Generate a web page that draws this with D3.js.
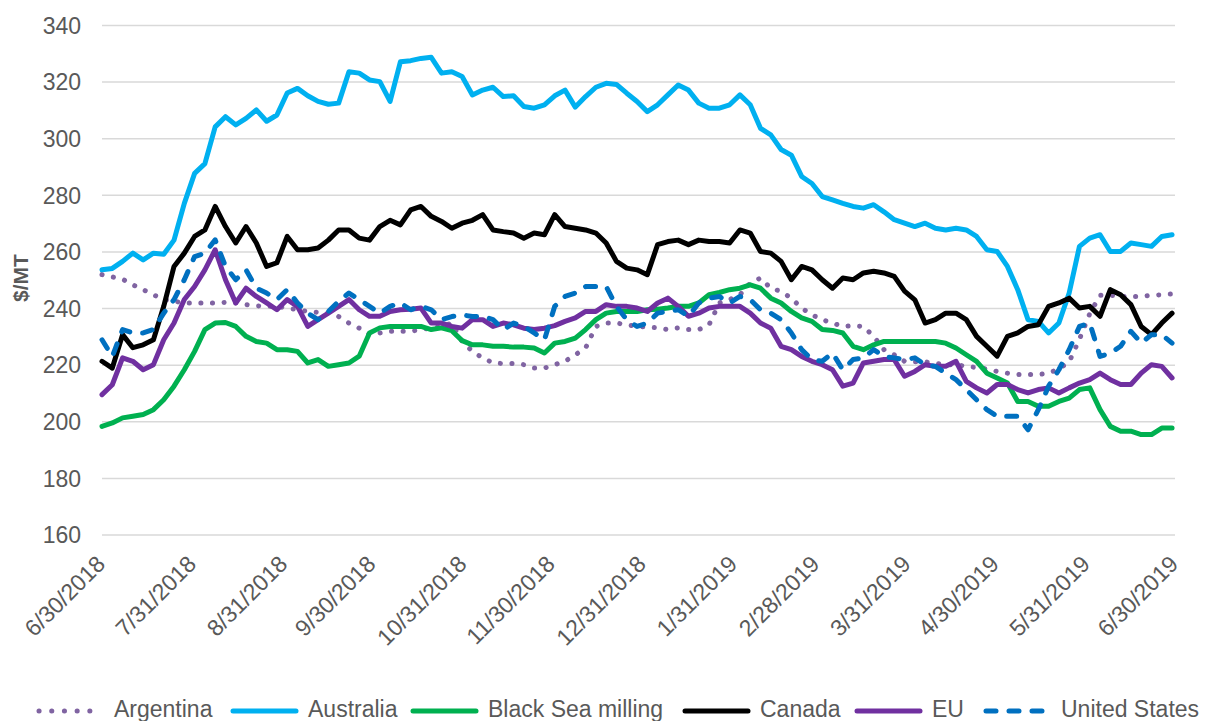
<!DOCTYPE html>
<html>
<head>
<meta charset="utf-8">
<script src="https://cdn.jsdelivr.net/npm/d3@7"></script>
<style>
  body { margin: 0; background: #fff; }
  svg { font-family: "Liberation Sans", Arial, sans-serif; }
</style>
</head>
<body>
<svg width="1205" height="721"></svg>
<script>
// weekly anchor dates; values below are read twice a week (anchor, then +3.5 days)
const weeks = [
  "2018-06-30","2018-07-07","2018-07-14","2018-07-21","2018-07-28","2018-08-04","2018-08-11","2018-08-18","2018-08-25",
  "2018-09-01","2018-09-08","2018-09-15","2018-09-22","2018-09-29","2018-10-06","2018-10-13","2018-10-20","2018-10-27",
  "2018-11-03","2018-11-10","2018-11-17","2018-11-24","2018-12-01","2018-12-08","2018-12-15","2018-12-22","2018-12-29",
  "2019-01-05","2019-01-12","2019-01-19","2019-01-26","2019-02-02","2019-02-09","2019-02-16","2019-02-23",
  "2019-03-02","2019-03-09","2019-03-16","2019-03-23","2019-03-30","2019-04-06","2019-04-13","2019-04-20","2019-04-27",
  "2019-05-04","2019-05-11","2019-05-18","2019-05-25","2019-06-01","2019-06-08","2019-06-15","2019-06-22","2019-06-29"
];

const argentina = [251.8,251,250.2,248.2,246.5,244.7,243,242.4,241.8,241.8,241.8,241.8,242,241.8,241.2,240.8,240.6,240.6,
  240,239.4,238.8,238.5,238.2,237,234.7,232.9,230.6,231.2,231.8,231.8,231.8,232.4,233,233.5,234.7,228.2,224.7,222.4,
  220.6,220.4,220.4,220,218.8,218.8,220,221.2,223.5,225.9,233.5,234.7,234.7,234.1,233.5,233.3,233,232.4,233,232.4,
  232.4,234.1,241.8,243,244.7,248.8,250.6,247,245.9,243.5,240,237.6,235.9,234.7,233.5,233.8,233.5,230,225.3,223.5,
  221.2,221,221,220.5,220,220,219.4,219,218.5,217.6,217,216.5,216.5,216.5,217,218.5,221,229,238,244.5,244.5,244.1,
  244.1,244.1,244.5,244.7,245];
const australia = [253.5,254,256.5,259.4,257,259.4,259,264,277,287.6,291,304,307.6,304.7,307,310,306,308.2,316,317.6,
  315,313,312,312.4,323.5,323,320.6,320,313,327,327.4,328.2,328.6,323,323.5,321.8,315.3,317,318,314.7,315,311.2,
  310.6,311.8,315,317,311,314.7,318,319.4,319,315.9,313,309.4,311.8,315.3,318.8,317,312.4,310.6,310.6,311.8,315.3,
  311.8,303.5,301.2,296,294,286.5,284,279.4,278.2,277,275.9,275.3,276.5,274,271.2,270,268.8,270,268.2,267.6,268.2,
  267.6,265.3,260.6,260,254.7,246.5,235.9,235.3,231.2,234.7,245.3,261.8,264.7,265.9,260,260,263,262.4,261.8,265.3,265.9];
const blackSea = [198.2,199.4,201.2,201.8,202.4,204.1,207.6,212.4,218.2,224.7,232.4,234.7,234.9,233.5,230,228.2,227.6,
  225.3,225.3,224.7,220.6,221.8,219.4,220,220.6,223,231.2,233,233.5,233.5,233.5,233.5,232.4,233,232,228.5,227,227,
  226.5,226.5,226.2,226.2,225.9,224.1,227.6,228.2,229.4,232.4,235.9,238.2,238.8,238.8,238.8,239.4,239.6,240,240.6,
  240.6,241.8,244.7,245.5,246.5,247,248.2,247,243.5,241.8,238.8,236.5,235.3,232.4,232.1,231.2,226.5,225.3,227,228.2,
  228.2,228.2,228.2,228.2,228.2,227.6,225.9,223.5,221.2,217,215.3,213.5,207,207,205.3,205.3,207,208.2,211.2,211.8,
  204.1,198.2,196.5,196.5,195.3,195.3,197.6,197.6];
const canada = [221.2,218.8,230.6,226,227,228.8,240.6,254.7,259.4,265.3,267.6,275.9,268.8,263,268.8,263,254.7,256,265.3,
  260.6,260.6,261.2,264,267.6,267.6,264.7,264,268.8,271,269.4,274.7,275.9,272.4,270.6,268.2,270,271,273,267.6,267,
  266.5,264.7,266.5,265.9,273,268.8,268.2,267.6,266.5,263,256.5,254.1,253.5,251.8,262.4,263.5,264,262.4,264,263.5,
  263.5,263,267.6,266.5,260,259.4,256.5,250,254.7,253.5,250,247,250.6,250,252.4,253,252.4,251.2,246,242.9,234.7,
  235.9,238.2,238.2,235.9,230,226.5,223,230,231.2,233.5,234.1,240.6,241.8,243.5,240,240.6,237.1,246.5,244.7,241.2,
  233.5,230.6,234.7,238.2];
const eu = [209.4,212.9,222.4,221.2,218.2,220,228.8,234.7,243,247.6,253.5,260.6,250,241.8,247,244.1,241.8,239.4,243,
  240.6,233.5,235.9,238.2,240.6,243,239.4,237.1,237.1,238.8,239.4,239.6,240,234.7,234.7,233.5,232.9,235.9,235.9,
  233.5,234.7,234.1,232.9,232.4,232.9,233.8,235.3,236.5,238.8,238.8,241.2,240.6,240.6,240,238.8,241.8,243.5,240.6,
  237.1,238.2,240,240.6,240.6,240.6,238.2,234.7,232.9,226.5,225.3,222.9,221.2,220,218.2,212.4,213.5,220.6,221.2,
  221.8,221.8,215.9,217.6,220,219.4,219.4,221.2,214.1,211.8,210,213,213,211.2,210,211.2,211.8,210,211.8,213.5,214.7,
  217,214.7,213,213,217,220,219.4,215.3];
const unitedStates = [228.8,222.9,232.4,231.2,231.2,232.4,238.2,243,250,258.2,259.4,264.1,254.7,250,253.5,247,245.3,243,
  246.5,241.8,238.2,235.9,238.8,242.4,245.3,243,240.6,238.2,240.6,241.8,239.4,240.6,239.4,235.9,237,237.6,237,237.1,
  235.9,232.4,234.7,233.5,231.2,228.8,240.6,244.1,245.3,247.6,247.6,247.6,240.6,235.9,233.5,234.7,238.2,238.8,239.4,
  237.1,241.8,243.5,244.1,241.8,244.1,243,239.4,238.2,235.9,231.2,225.3,221.8,221.2,224.1,218.2,221.8,222.4,225.3,
  222.9,222.4,221.8,222.4,220,219.4,217,214.7,211.2,207.6,204.1,201.8,201.8,201.8,197,204.1,212.4,218.2,225.3,233.5,
  234.7,222.9,224.1,226.5,231.8,227.6,230.6,230.6,227.6];

const seriesNames = ["Argentina", "Australia", "Black Sea milling", "Canada", "EU", "United States"];
const seriesValues = [argentina, australia, blackSea, canada, eu, unitedStates];

const monthTicks = ["2018-06-30","2018-07-31","2018-08-31","2018-09-30","2018-10-31","2018-11-30","2018-12-31",
  "2019-01-31","2019-02-28","2019-03-31","2019-04-30","2019-05-31","2019-06-30"];
const monthLabels = ["6/30/2018","7/31/2018","8/31/2018","9/30/2018","10/31/2018","11/30/2018","12/31/2018",
  "1/31/2019","2/28/2019","3/31/2019","4/30/2019","5/31/2019","6/30/2019"];
const yTicks = [160, 180, 200, 220, 240, 260, 280, 300, 320, 340];

const styles = [
  { color: "#8064a2", dash: "0.1 11.5" },
  { color: "#00b0f0", dash: null },
  { color: "#00b050", dash: null },
  { color: "#000000", dash: null },
  { color: "#7030a0", dash: null },
  { color: "#0070c0", dash: "10 13" }
];

const parse = d3.timeParse("%Y-%m-%d");
const svg = d3.select("svg");
const plotLeft = 102, plotRight = 1175, plotTop = 25, plotBottom = 534.5;

// sample dates: each week anchor followed by its mid-week point
const sampleDates = [];
weeks.forEach((w, i) => {
  sampleDates.push(parse(w));
  if (i < weeks.length - 1) sampleDates.push(d3.timeHour.offset(parse(w), 84));
});

const x = d3.scaleTime()
  .domain([parse("2018-06-30"), parse("2019-06-30")])
  .range([plotLeft, plotRight]);
const y = d3.scaleLinear().domain([160, 340]).range([plotBottom, plotTop]);

// y grid + labels
const yAxis = svg.append("g")
  .attr("transform", `translate(${plotLeft},0)`)
  .call(d3.axisLeft(y).tickValues(yTicks).tickSize(-(plotRight - plotLeft)).tickPadding(21));
yAxis.select(".domain").remove();
yAxis.selectAll("line").attr("stroke", "#d9d9d9").attr("stroke-width", 1.5);
yAxis.selectAll("text").attr("fill", "#595959").style("font-size", "23px").attr("dy", "0.36em");

// x labels
const labelOf = new Map(monthTicks.map((d, i) => [+parse(d), monthLabels[i]]));
const xAxis = svg.append("g")
  .attr("transform", `translate(0,${plotBottom})`)
  .call(d3.axisBottom(x).tickValues(monthTicks.map(parse)).tickSize(0)
    .tickFormat(d => labelOf.get(+d)));
xAxis.select(".domain").remove();
xAxis.selectAll("text")
  .attr("fill", "#595959")
  .style("font-size", "23px")
  .attr("x", 0).attr("y", 0).attr("dy", 0)
  .attr("transform", "translate(4,31) rotate(-45)")
  .style("text-anchor", "end");

// axis title
svg.append("text")
  .attr("transform", "translate(28,278) rotate(-90)")
  .attr("text-anchor", "middle")
  .attr("fill", "#595959")
  .style("font-size", "21px")
  .style("font-weight", "bold")
  .text("$/MT");

// lines
const line = d3.line()
  .x(d => x(d[0]))
  .y(d => y(d[1]));

seriesValues.forEach((vals, i) => {
  const pts = sampleDates.map((dt, j) => [dt, vals[j]]);
  svg.append("path")
    .datum(pts)
    .attr("fill", "none")
    .attr("stroke", styles[i].color)
    .attr("stroke-width", 5)
    .attr("stroke-linejoin", "round")
    .attr("stroke-linecap", "round")
    .attr("stroke-dasharray", styles[i].dash)
    .attr("d", line);
});

// legend
const legendX = [37, 231, 411, 683, 855, 984];
const legend = svg.append("g");
seriesNames.forEach((name, i) => {
  const lx = legendX[i];
  const len = i === 5 ? 64 : 67;
  legend.append("line")
    .attr("x1", lx + 2).attr("x2", lx + len - 2)
    .attr("y1", 711).attr("y2", 711)
    .attr("stroke", styles[i].color)
    .attr("stroke-width", 5)
    .attr("stroke-linecap", "round")
    .attr("stroke-dasharray", i === 0 ? "0.1 12.6" : (i === 5 ? "10 13" : null));
  legend.append("text")
    .attr("x", lx + 77)
    .attr("y", 716.5)
    .attr("fill", "#595959")
    .style("font-size", "23px")
    .text(name);
});
</script>
</body>
</html>
